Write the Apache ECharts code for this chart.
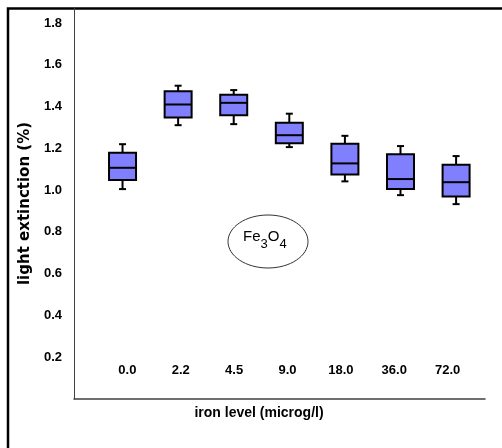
<!DOCTYPE html>
<html>
<head>
<meta charset="utf-8">
<script src="https://cdn.jsdelivr.net/npm/echarts@6/dist/echarts.min.js"></script>
<style>
  html, body { margin: 0; padding: 0; background: #fff; }
  #chart { width: 502px; height: 448px; }
</style>
</head>
<body>
<div id="chart"></div>
<script>
// iron level categories (x labels)
var ironLevels = ['0.0', '2.2', '4.5', '9.0', '18.0', '36.0', '72.0'];

// box values: min, Q1, median, Q3, max
var whiskerLow  = [1.005, 1.311, 1.316, 1.206, 1.042, 0.976, 0.933];
var quartile1   = [1.048, 1.348, 1.359, 1.224, 1.075, 1.006, 0.970];
var medians     = [1.107, 1.410, 1.418, 1.263, 1.128, 1.053, 1.038];
var quartile3   = [1.179, 1.474, 1.457, 1.323, 1.222, 1.172, 1.121];
var whiskerHigh = [1.220, 1.500, 1.479, 1.366, 1.260, 1.211, 1.163];

// y tick values
var yTicks = [0.2, 0.4, 0.6, 0.8, 1.0, 1.2, 1.4, 1.6, 1.8];

var boxData = ironLevels.map(function (lv, i) {
  return [i, whiskerLow[i], quartile1[i], medians[i], quartile3[i], whiskerHigh[i]];
});

var chart = echarts.init(document.getElementById('chart'));

//画一个箱子：须线、小横帽、方框、中位线
function renderBox(params, api) {
  var x = api.value(0);
  var lo = api.coord([x, api.value(1)]);
  var q1 = api.coord([x, api.value(2)]);
  var md = api.coord([x, api.value(3)]);
  var q3 = api.coord([x, api.value(4)]);
  var hi = api.coord([x, api.value(5)]);
  var hw = 13.5, cw = 3.5, cx = md[0];
  function ln(x1, y1, x2, y2) {
    return { type: 'line', shape: { x1: x1, y1: y1, x2: x2, y2: y2 },
      style: { stroke: '#000', lineWidth: 2 } };
  }
  return {
    type: 'group',
    children: [
      ln(cx, hi[1], cx, q3[1]),
      ln(cx, q1[1], cx, lo[1]),
      ln(cx - cw, hi[1], cx + cw, hi[1]),
      ln(cx - cw, lo[1], cx + cw, lo[1]),
      { type: 'rect', shape: { x: cx - hw, y: q3[1], width: hw * 2, height: q1[1] - q3[1] },
        style: { fill: '#8080ff', stroke: '#000', lineWidth: 2 } },
      ln(cx - hw, md[1], cx + hw, md[1])
    ]
  };
}

//椭圆里的化学式文字
function formulaText(str, x, y, size) {
  return { type: 'text', x: x, y: y,
    style: { text: str, fontFamily: 'Liberation Sans', fontSize: size,
      fill: '#000', align: 'left', verticalAlign: 'middle' } };
}

var option = {
  animation: false,
  backgroundColor: '#fff',
  grid: { left: 74, right: 17, top: 8, bottom: 49 },
  xAxis: [{
    type: 'value',
    min: -1,
    max: 6.7,
    interval: 1,
    splitLine: { show: false },
    axisTick: { show: false },
    axisLine: { show: true, onZero: false, lineStyle: { color: '#404040', width: 1.5 } },
    axisLabel: {
      inside: true,
      margin: 22,
      color: '#000',
      fontFamily: 'Liberation Sans',
      fontWeight: 'bold',
      fontSize: 13,
      formatter: function (v) {
        return ironLevels[Math.round(v)] !== undefined && Math.abs(v - Math.round(v)) < 1e-6 ? ironLevels[Math.round(v)] : '';
      }
    },
    name: 'iron level (microg/l)',
    nameLocation: 'middle',
    nameGap: 7,
    nameTextStyle: {
      color: '#000',
      fontFamily: 'Liberation Sans',
      fontWeight: 'bold',
      fontSize: 14,
      padding: [0, 41, 0, 0]
    }
  }, {
    type: 'value',
    min: -0.873,
    max: 6.52,
    show: false
  }],
  yAxis: {
    type: 'value',
    min: 0,
    max: 1.872,
    interval: 0.2,
    splitLine: { show: false },
    axisTick: { show: false },
    axisLine: { show: true, onZero: false, lineStyle: { color: '#404040', width: 1 } },
    axisLabel: {
      margin: 12,
      color: '#000',
      fontFamily: 'Liberation Sans',
      fontWeight: 'bold',
      fontSize: 13,
      formatter: function (v) {
        for (var i = 0; i < yTicks.length; i++) {
          if (Math.abs(yTicks[i] - v) < 1e-6) return yTicks[i].toFixed(1);
        }
        return '';
      }
    },
    name: 'light extinction (%)',
    nameLocation: 'middle',
    nameRotate: 90,
    nameGap: 34,
    nameTextStyle: {
      color: '#000',
      fontFamily: 'DejaVu Sans',
      fontWeight: 'bold',
      fontSize: 15
    }
  },
  series: [{
    type: 'custom',
    xAxisIndex: 1,
    renderItem: renderBox,
    encode: { x: 0, y: [1, 2, 3, 4, 5] },
    data: boxData
  }],
  graphic: [
    //外框（上边和左边）
    { type: 'polyline', shape: { points: [[8, 448], [8, 8.5], [502, 8.5]] },
      style: { stroke: '#000', lineWidth: 2.5, fill: null } },
    //Fe3O4 椭圆标注
    { type: 'ellipse', shape: { cx: 268, cy: 241.5, rx: 40, ry: 26.5 },
      style: { stroke: '#333', lineWidth: 1, fill: null } },
    formulaText('Fe', 243, 237, 15),
    formulaText('3', 260.5, 244, 13),
    formulaText('O', 267.7, 237, 15),
    formulaText('4', 279.4, 244, 13)
  ]
};

chart.setOption(option);
</script>
</body>
</html>
